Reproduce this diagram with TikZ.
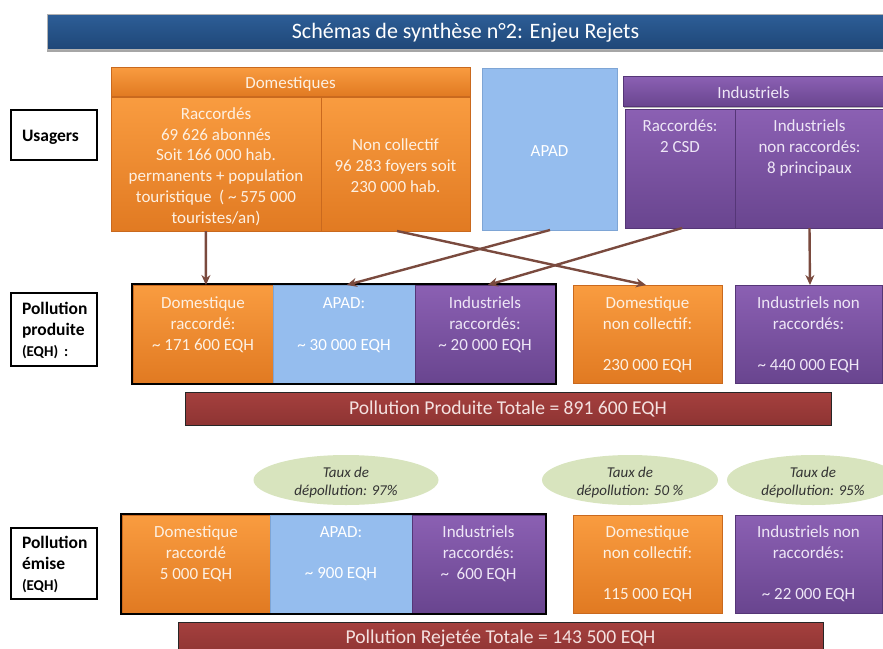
\documentclass[tikz,border=0pt]{standalone}
\usepackage{fontspec}
\setmainfont{Carlito}
\usetikzlibrary{arrows.meta,calc,shapes.geometric,shadows,fit}
\definecolor{orgT}{HTML}{F99C40}
\definecolor{orgB}{HTML}{E17A22}
\definecolor{orgD}{HTML}{C9691E}
\definecolor{bluF}{HTML}{95BDEE}
\definecolor{bluD}{HTML}{7EA5D5}
\definecolor{purT}{HTML}{8B60B3}
\definecolor{purB}{HTML}{69458F}
\definecolor{purD}{HTML}{553677}
\definecolor{titT}{HTML}{2D5E97}
\definecolor{titB}{HTML}{1F4778}
\definecolor{redT}{HTML}{A5403E}
\definecolor{redB}{HTML}{8E3433}
\definecolor{ellF}{HTML}{D8E4BE}
\definecolor{arrC}{HTML}{7A4A3E}
\definecolor{txtO}{HTML}{FDF0E2}
\definecolor{txtP}{HTML}{EEE6F6}
\definecolor{txtR}{HTML}{F4E1E0}
\begin{document}
\begin{tikzpicture}[x=1pt,y=-1pt,
  shd/.style={drop shadow={shadow xshift=1.3pt,shadow yshift=-1.3pt,opacity=0.3,fill=black}},
  box/.style={rectangle,inner sep=0pt,outer sep=0pt,line width=0.7pt,align=center,
    font=\fontsize{17}{20.8}\selectfont,
    execute at begin node={\rule{0pt}{20.6pt}},execute at end node=\strut,shd},
  sz/.style 2 args={minimum width=#1,minimum height=#2},
  org/.style={box,top color=orgT,bottom color=orgB,draw=orgD,text=txtO},
  blu/.style={box,fill=bluF,draw=bluD,text=white},
  pur/.style={box,top color=purT,bottom color=purB,draw=purD,text=txtP},
  txt/.style={inner sep=0pt,align=center,font=\fontsize{17}{20.8}\selectfont,
    execute at begin node=\strut,execute at end node=\strut},
  grp/.style={rectangle,draw=black,line width=2.2pt,inner sep=1.2pt,fill=none},
  lab/.style={rectangle,draw=black,line width=1.5pt,fill=white,inner xsep=11pt,inner ysep=0pt,
    text width=64pt,align=left,font=\bfseries\fontsize{17.5}{20.8}\selectfont,
    execute at begin node={\rule{0pt}{18.6pt}},execute at end node=\strut,shd},
  tot/.style={rectangle,top color=redT,bottom color=redB,draw=black!85,line width=1pt,
    text=txtR,font=\fontsize{19.6}{22}\selectfont,inner sep=0pt,shd},
  ell/.style={ellipse,fill=ellF,draw=none,inner sep=0pt},
  etxt/.style={inner sep=0pt,align=center,text=black!80,
    font=\itshape\fontsize{15}{18}\selectfont,
    execute at begin node=\strut,execute at end node=\strut},
  tit/.style={rectangle,top color=titT,bottom color=titB,draw=gray!60,line width=0.8pt,
    text=white,font=\fontsize{22}{24}\selectfont,inner sep=0pt,text height=17pt,text depth=4pt,
    drop shadow={shadow xshift=0pt,shadow yshift=-2.5pt,opacity=0.35,fill=black}},
  arr/.style={draw=arrC,line width=2.4pt,-{Stealth[length=10pt,width=9pt]}}
]
\useasboundingbox (0,0) rectangle (883,648);

% title
\node[tit,sz={837pt}{35pt}] (title) at (465.5,31.5) {Schémas de synthèse n°2: Enjeu Rejets};

% ---------- Usagers row ----------
\node[lab,minimum width=86pt,minimum height=50pt] (lusa) at (54,135) {Usagers};

\node[org,sz={359pt}{29pt}] (domh) at (290.5,81.5) {Domestiques};
\node[org,sz={210pt}{134pt}] (rac) at (216,164) {};
\node[org,sz={149pt}{134pt}] (nc) at (395.5,164) {};
\node[txt,text=txtO] (rac-t) at ($(rac.center)+(0,4.5)$) {Raccordés\\69 626 abonnés\\Soit 166 000 hab.\\permanents + population\\touristique \ ( \textasciitilde{} 575 000\\touristes/an)};
\node[txt,text=txtO] (nc-t) at ($(nc.center)+(0,4.5)$) {Non collectif\\96 283 foyers soit\\230 000 hab.};

\node[blu,sz={135pt}{162pt}] (apad) at (549.5,149) {APAD};

\node[pur,sz={261pt}{30pt}] (indh) at (753.5,91.5) {Industriels};
\node[pur,sz={110pt}{119pt}] (irac) at (680,168.5) {};
\node[pur,sz={149pt}{119pt}] (inr) at (809.5,168.5) {};
\node[txt,text=txtP] (irac-t) at ($(irac.north)+(0,30.5)$) {Raccordés:\\2 CSD};
\node[txt,text=txtP] (inr-t) at ($(inr.north)+(0,41)$) {Industriels\\non raccordés:\\8 principaux};

% ---------- Pollution produite row ----------
\node[lab,minimum width=86pt,minimum height=73pt] (lprod) at (54,329.5) {Pollution\\produite\\{\fontsize{15}{20.8}\selectfont (EQH) :}};

\node[org,sz={140pt}{98pt}] (pdr) at (203,334) {};
\node[blu,sz={142pt}{98pt}] (papad) at (344,334) {};
\node[pur,sz={140pt}{98pt}] (pirac) at (485,334) {};
\node[grp,fit=(pdr)(pirac)] (pgrp) {};
\node[org,sz={149pt}{98pt}] (pdnc) at (647.5,334) {};
\node[pur,sz={147pt}{98pt}] (pinr) at (808.5,334) {};

\node[txt,text=txtO] (pdr-t) at ($(pdr.north)+(0,41.5)$) {Domestique\\raccordé:\\\textasciitilde{} 171 600 EQH};
\node[txt,text=white] (papad-t) at ($(papad.north)+(0,42)$) {APAD:\\[20.8pt]\textasciitilde{} 30 000 EQH};
\node[txt,text=txtP] (pirac-t) at ($(pirac.north)+(0,41.5)$) {Industriels\\raccordés:\\\textasciitilde{} 20 000 EQH};
\node[txt,text=txtO] (pdnc-t) at ($(pdnc.north)+(0,52)$) {Domestique\\non collectif:\\[20.8pt]230 000 EQH};
\node[txt,text=txtP] (pinr-t) at ($(pinr.north)+(0,52)$) {Industriels non\\raccordés:\\[20.8pt]\textasciitilde{} 440 000 EQH};

\node[tot,minimum width=646pt,minimum height=33pt] (ptot) at (508,408.5) {Pollution Produite Totale = 891 600 EQH};

% ---------- arrows ----------
\draw[arr] ($(rac.south west)!0.452!(rac.south east)$) -- ($(pdr.north west)!0.521!(pdr.north east)$);
\draw[arr] ($(nc.south west)!0.51!(nc.south east)$) -- ($(pdnc.north west)!0.49!(pdnc.north east)$);
\draw[arr] ($(apad.south west)!0.504!(apad.south east)$) -- ($(papad.north west)!0.52!(papad.north east)$);
\draw[arr] ($(irac.south west)!0.52!(irac.south east)$) -- ($(pirac.north west)!0.52!(pirac.north east)$);
\draw[arr] ($(inr.south west)!0.50!(inr.south east)$) -- ($(pinr.north west)!0.51!(pinr.north east)$);

% ---------- ellipses ----------
\node[ell,minimum width=185pt,minimum height=50pt] (e1) at (346,480) {};
\node[ell,minimum width=176pt,minimum height=50pt] (e2) at (630,480) {};
\node[ell,minimum width=172pt,minimum height=50pt] (e3) at (813,480) {};
\node[etxt] (e1-t) at ($(e1.center)+(0,3.5)$) {Taux de\\dépollution: 97\%};
\node[etxt] (e2-t) at ($(e2.center)+(0,3.5)$) {Taux de\\dépollution: 50 \%};
\node[etxt] (e3-t) at ($(e3.center)+(0,3.5)$) {Taux de\\dépollution: 95\%};

% ---------- Pollution emise row ----------
\node[lab,minimum width=86pt,minimum height=71pt] (lemi) at (54,563.5) {Pollution\\émise\\{\fontsize{15}{20.8}\selectfont (EQH)}};

\node[org,sz={148pt}{98pt}] (edr) at (196,564) {};
\node[blu,sz={142pt}{98pt}] (eapad) at (341,564) {};
\node[pur,sz={133pt}{98pt}] (eirac) at (478.5,564) {};
\node[grp,fit=(edr)(eirac)] (egrp) {};
\node[org,sz={149pt}{98pt}] (ednc) at (647.5,564) {};
\node[pur,sz={147pt}{98pt}] (einr) at (808.5,564) {};

\node[txt,text=txtO] (edr-t) at ($(edr.north)+(0,40.5)$) {Domestique\\raccordé\\5 000 EQH};
\node[txt,text=white] (eapad-t) at ($(eapad.north)+(0,40.5)$) {APAD:\\[20.8pt]\textasciitilde{} 900 EQH};
\node[txt,text=txtP] (eirac-t) at ($(eirac.north)+(0,40.5)$) {Industriels\\raccordés:\\\textasciitilde{} \ 600 EQH};
\node[txt,text=txtO] (ednc-t) at ($(ednc.north)+(0,51)$) {Domestique\\non collectif:\\[20.8pt]115 000 EQH};
\node[txt,text=txtP] (einr-t) at ($(einr.north)+(0,51)$) {Industriels non\\raccordés:\\[20.8pt]\textasciitilde{} 22 000 EQH};

\node[tot,minimum width=645pt,minimum height=33pt] (etot) at (500.5,638.5) {Pollution Rejetée Totale = 143 500 EQH};
\end{tikzpicture}
\end{document}
